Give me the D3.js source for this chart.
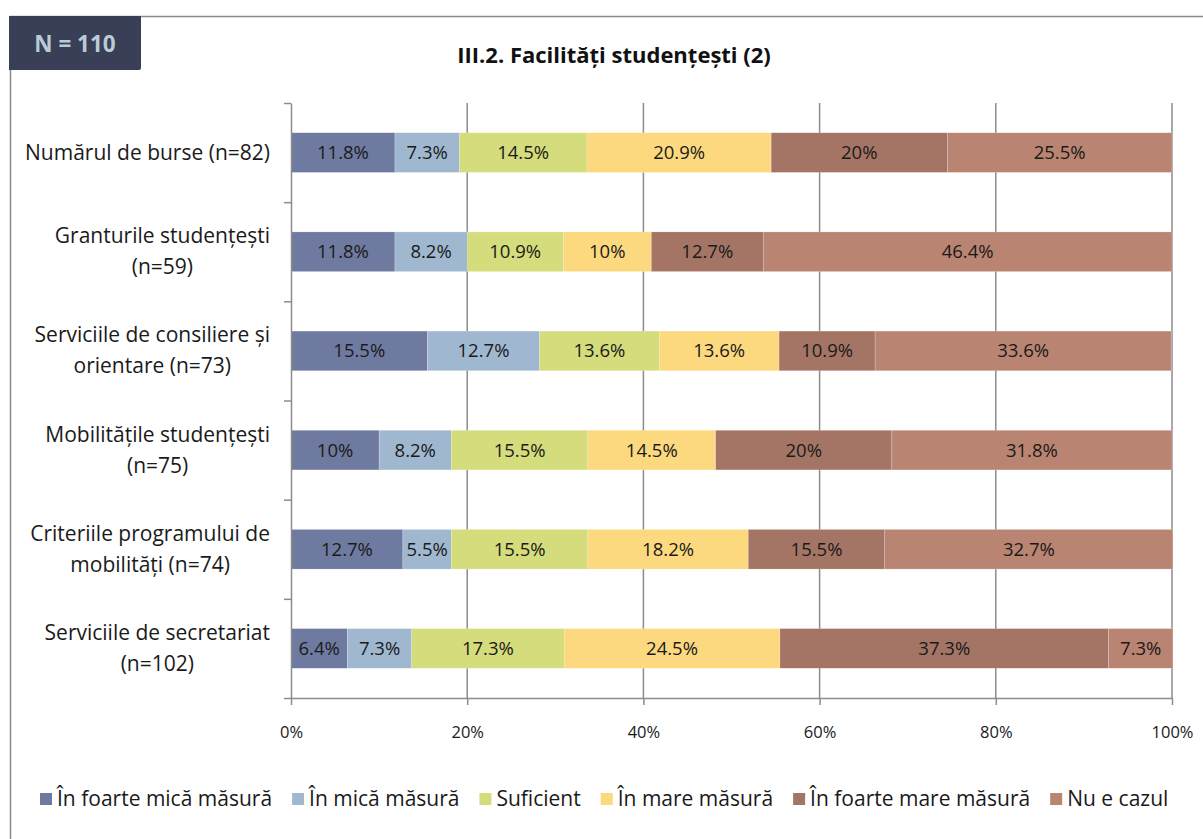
<!DOCTYPE html>
<html>
<head>
<meta charset="utf-8">
<script src="https://cdn.jsdelivr.net/npm/d3@7"></script>
<style>
  body { margin: 0; background: #fff; }
  svg { font-family: "Open Sans", Lato, sans-serif; }
</style>
</head>
<body>
<svg id="chart" width="1203" height="839"></svg>
<script>
const categories = [
  ["Numărul de burse (n=82)"],
  ["Granturile studențești", "(n=59)"],
  ["Serviciile de consiliere și", "orientare (n=73)"],
  ["Mobilitățile studențești", "(n=75)"],
  ["Criteriile programului de", "mobilități (n=74)"],
  ["Serviciile de secretariat", "(n=102)"]
];
const seriesNames = ["În foarte mică măsură", "În mică măsură", "Suficient", "În mare măsură", "În foarte mare măsură", "Nu e cazul"];
const colors = ["#6f7aa0", "#a0b8cf", "#d5dc7c", "#fcd97f", "#a47564", "#b98471"];
const values = [
  [11.8, 7.3, 14.5, 20.9, 20, 25.5],
  [11.8, 8.2, 10.9, 10, 12.7, 46.4],
  [15.5, 12.7, 13.6, 13.6, 10.9, 33.6],
  [10, 8.2, 15.5, 14.5, 20, 31.8],
  [12.7, 5.5, 15.5, 18.2, 15.5, 32.7],
  [6.4, 7.3, 17.3, 24.5, 37.3, 7.3]
];
const xTicks = [0, 20, 40, 60, 80, 100];

const svg = d3.select("#chart");
const margin = { top: 103, left: 291, right: 31, bottom: 141 };
const W = 1203, H = 839;

// frame and badge
svg.append("path")
  .attr("d", `M10.5,${H} V16.5 H${W}`)
  .attr("fill", "none").attr("stroke", "#8a8a8a").attr("stroke-width", 1.5);
svg.append("path")
  .attr("d", "M9,16 H141 V68 Q141,70 139,70 H9 Z")
  .attr("fill", "#3a3f58");
svg.append("text")
  .attr("x", 75).attr("y", 52).attr("text-anchor", "middle")
  .attr("fill", "#b9cbd5").style("font-size", "22.5px").style("font-weight", "bold")
  .text("N = 110");

svg.append("text")
  .attr("x", 614).attr("y", 63).attr("text-anchor", "middle")
  .attr("fill", "#111").style("font-size", "22px").style("font-weight", "bold")
  .text("III.2. Facilități studențești (2)");

const x = d3.scaleLinear().domain([0, 100]).range([margin.left, W - margin.right]);
const y = d3.scaleBand().domain(d3.range(categories.length))
  .range([margin.top, H - margin.bottom]).paddingInner(0.6).paddingOuter(0.3);
const yEdge = d3.scaleLinear().domain([0, categories.length]).range([margin.top, H - margin.bottom]);

// gridlines
svg.append("g").selectAll("line").data(xTicks.slice(1)).join("line")
  .attr("x1", d => x(d)).attr("x2", d => x(d))
  .attr("y1", margin.top).attr("y2", H - margin.bottom)
  .attr("stroke", "#8c8c8c").attr("stroke-width", 1.5);

// bars
const stacked = values.map((row, i) => {
  let acc = 0;
  return row.map((v, j) => { const s = { row: i, s: j, x0: acc, x1: acc + v, v }; acc += v; return s; });
});
const rows = svg.append("g").selectAll("g").data(stacked).join("g");
rows.selectAll("rect").data(d => d).join("rect")
  .attr("x", d => x(d.x0)).attr("width", d => x(d.x1) - x(d.x0))
  .attr("y", d => y(d.row)).attr("height", y.bandwidth())
  .attr("fill", d => colors[d.s])
  .attr("stroke", "#fff").attr("stroke-width", 0.5).attr("stroke-opacity", 0.4);
rows.selectAll("text").data(d => d).join("text")
  .attr("x", d => (x(d.x0) + x(d.x1)) / 2)
  .attr("y", d => y(d.row) + y.bandwidth() / 2 + 6.5)
  .attr("text-anchor", "middle").attr("fill", "#1a1a1a")
  .style("font-size", "18.5px")
  .text(d => d.v + "%");

// axes
const xAxis = svg.append("g")
  .attr("transform", `translate(0,${H - margin.bottom})`)
  .call(d3.axisBottom(x).tickValues(xTicks).tickFormat(d => d + "%").tickSize(7).tickSizeOuter(0).tickPadding(21));
xAxis.select(".domain").attr("stroke", "#8c8c8c").attr("stroke-width", 1.5);
xAxis.selectAll(".tick line").attr("stroke", "#8c8c8c").attr("stroke-width", 1.5);
xAxis.selectAll(".tick text").attr("fill", "#1a1a1a").style("font-size", "16.5px").style("font-family", "'Open Sans', sans-serif");

const yAxis = svg.append("g")
  .attr("transform", `translate(${margin.left},0)`)
  .call(d3.axisLeft(yEdge).tickValues(d3.range(categories.length + 1)).tickFormat("").tickSize(7).tickSizeOuter(0));
yAxis.select(".domain").attr("stroke", "#8c8c8c").attr("stroke-width", 1.5);
yAxis.selectAll(".tick line").attr("stroke", "#8c8c8c").attr("stroke-width", 1.5);

// category labels: lines centred on each other, block right-aligned
const lineH = 31;
categories.forEach((lines, i) => {
  const g = svg.append("g");
  const cy = y(i) + y.bandwidth() / 2;
  const texts = lines.map((l, k) => g.append("text")
    .attr("y", cy + (k - (lines.length - 1) / 2) * lineH + 7)
    .attr("text-anchor", "middle").attr("fill", "#1a1a1a")
    .style("font-size", "21px").text(l));
  const maxW = d3.max(texts, t => t.node().getComputedTextLength());
  texts.forEach(t => t.attr("x", 270 - maxW / 2));
});

// legend
const legend = svg.append("g");
let lx = 0;
seriesNames.forEach((name, i) => {
  const item = legend.append("g").attr("transform", `translate(${lx},0)`);
  item.append("rect").attr("x", 0).attr("y", -13).attr("width", 12).attr("height", 12).attr("fill", colors[i]);
  const t = item.append("text").attr("x", 17).attr("y", 0).attr("fill", "#1a1a1a")
    .style("font-size", "21px").text(name);
  lx += 17 + t.node().getComputedTextLength() + 20;
});
legend.attr("transform", "translate(40,806)");
</script>
</body>
</html>
